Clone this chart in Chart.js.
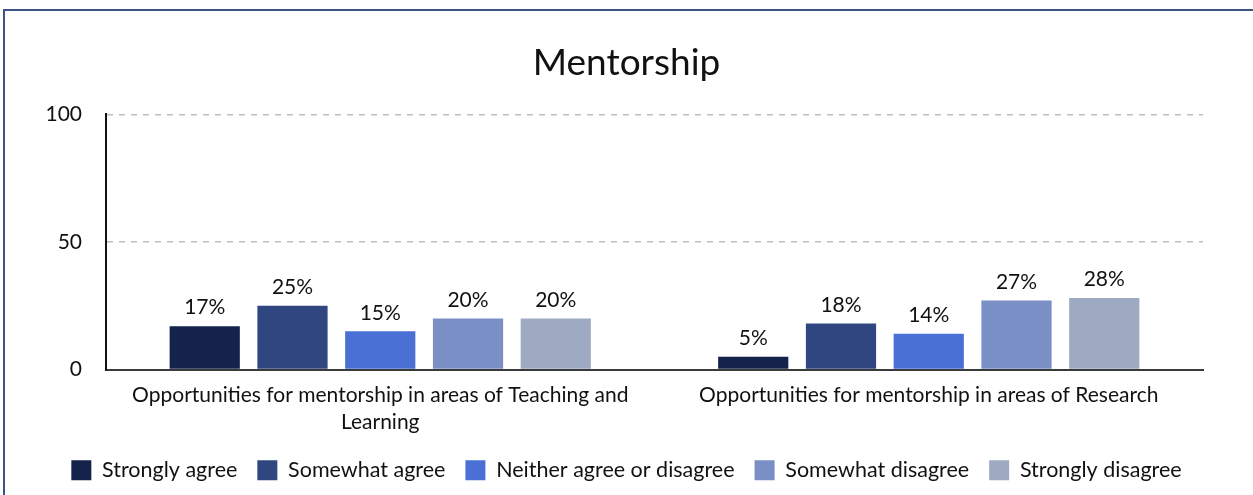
<!DOCTYPE html>
<html>
<head>
<meta charset="utf-8">
<script src="https://cdn.jsdelivr.net/npm/chart.js@4.4.0/dist/chart.umd.min.js"></script>
<style>
    html, body { margin: 0; padding: 0; background: #fff; }
    #frame {
        position: absolute; left: 3px; top: 9px; width: 1300px; height: 600px;
        border-left: 2px solid #3d5384; border-top: 2px solid #3d5384;
    }
    #wrap { position: absolute; left: 0; top: 0; width: 1253px; height: 495px; }
</style>
</head>
<body>
<div id="frame"></div>
<div id="wrap"><canvas id="chart"></canvas></div>
<script>
// Chart data
const categories = [
    ['Opportunities for mentorship in areas of Teaching and', 'Learning'],
    'Opportunities for mentorship in areas of Research'
];
const responses = ['Strongly agree', 'Somewhat agree', 'Neither agree or disagree', 'Somewhat disagree', 'Strongly disagree'];
const stronglyAgree = [17, 5];
const somewhatAgree = [25, 18];
const neither = [15, 14];
const somewhatDisagree = [20, 27];
const stronglyDisagree = [20, 28];
const yTicks = [0, 50, 100];

const colors = ['#14234b', '#2f4681', '#4a6fd5', '#7a8fc6', '#9eaac2'];
const FONT = 'Lato, "Open Sans", sans-serif';

/**
 * Draw percentage labels above bars
 */
const valueLabels = {
    id: 'valueLabels',
    afterDatasetsDraw(chart) {
        const ctx = chart.ctx;
        ctx.save();
        ctx.font = '21px ' + FONT;
        ctx.fillStyle = '#111';
        ctx.textAlign = 'center';
        ctx.textBaseline = 'bottom';
        chart.data.datasets.forEach((ds, i) => {
            chart.getDatasetMeta(i).data.forEach((bar, j) => {
                ctx.fillText(ds.data[j] + '%', bar.x, bar.y - 8);
            });
        });
        ctx.restore();
    }
};

const seriesValues = [stronglyAgree, somewhatAgree, neither, somewhatDisagree, stronglyDisagree];

new Chart(document.getElementById('chart'), {
    type: 'bar',
    data: {
        labels: categories,
        datasets: responses.map((name, i) => ({
            label: name,
            data: seriesValues[i],
            backgroundColor: colors[i],
            borderWidth: 0,
            categoryPercentage: 0.8,
            barPercentage: 0.8
        }))
    },
    options: {
        responsive: true,
        maintainAspectRatio: false,
        animation: false,
        layout: { padding: { left: 0, right: 0, top: 41, bottom: 4 } },
        scales: {
            x: {
                grid: { display: false, drawTicks: false },
                border: { display: true, color: '#3a3a3a', width: 2 },
                ticks: {
                    color: '#111',
                    font: { family: FONT, size: 21, lineHeight: 1.3 },
                    padding: 12,
                    maxRotation: 0,
                    autoSkip: false
                },
                afterFit(scale) { scale.height = 70; }
            },
            y: {
                min: 0,
                max: 100,
                afterBuildTicks(scale) { scale.ticks = yTicks.map(v => ({ value: v })); },
                grid: {
                    drawTicks: false,
                    color: ctx => ctx.tick && ctx.tick.value === 0 ? 'rgba(0,0,0,0)' : '#bdbdbd',
                    lineWidth: 1.5
                },
                border: { display: true, color: '#111', width: 2, dash: [6, 6] },
                ticks: {
                    color: '#111',
                    font: { family: FONT, size: 21 },
                    padding: 24
                },
                afterFit(scale) { scale.width = 106; }
            },
            // empty right-hand spacer so the title and legend stay centred on the page
            spacer: {
                type: 'linear',
                position: 'right',
                grid: { display: false, drawTicks: false },
                border: { display: false },
                ticks: { display: false },
                afterFit(scale) { scale.width = 50; }
            }
        },
        plugins: {
            title: {
                display: true,
                text: 'Mentorship',
                color: '#111',
                font: { family: FONT, size: 37, weight: 'normal' },
                padding: { top: 0, bottom: 29 }
            },
            legend: {
                position: 'bottom',
                labels: {
                    color: '#111',
                    font: { family: FONT, size: 21.5 },
                    boxWidth: 20,
                    boxHeight: 20,
                    padding: 20
                }
            },
            tooltip: { enabled: false }
        }
    },
    plugins: [valueLabels]
});
</script>
</body>
</html>
